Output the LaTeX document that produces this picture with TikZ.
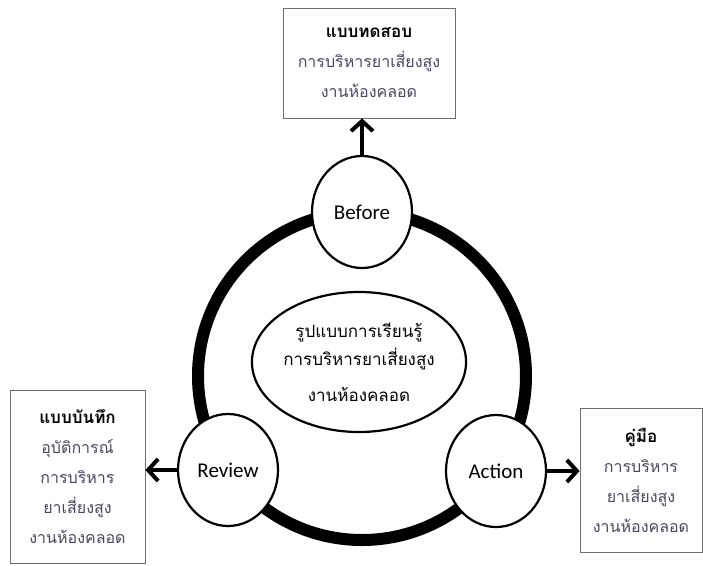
\documentclass[tikz,border=0pt]{standalone}
\usepackage{fontspec}
\setmainfont{Carlito}
\newfontfamily\thai[Script=Thai]{Loma}
\usetikzlibrary{arrows.meta,shapes.geometric}
\definecolor{bodytext}{RGB}{72,72,96}
\definecolor{boxline}{RGB}{110,110,110}
\newcommand{\Lead}[2]{\draw [lead] (#1) -- (#2);}

\begin{document}
\begin{tikzpicture}
[x=1pt,y=-1pt,
 lead/.style={-{Straight Barb[length=10pt,width=22pt]},line width=4pt},
 stage/.style={draw,ellipse,line width=2.2pt,fill=white,minimum width=100pt,
   minimum height=112pt,inner sep=0pt,font=\fontsize{21}{24}\selectfont},
 card/.style={draw=boxline,line width=0.8pt,align=center,inner sep=0pt,
   font=\thai\fontsize{16}{30}\selectfont},]

\useasboundingbox (0,0) rectangle (703,565);

% ring behind the three stages
\coordinate (O) at (362,376);
\draw [line width=12pt] (O) circle (164pt);

\node [draw,ellipse,line width=2.2pt,fill=white,minimum width=203pt,minimum height=140pt,
  inner sep=0pt,align=center,font=\thai\fontsize{17}{28}\selectfont] at (359,362) (core)
  {รูปแบบการเรียนรู้\\การบริหารยาเสี่ยงสูง\\[8pt]งานห้องคลอด};

\node [stage] at (362,212) (before) {Before};
\node [stage] at (228,470) (review) {Review};
\node [stage] at (496,471) (action) {Action};

\node [card,minimum width=172pt,minimum height=110pt] at (369,63) (test)
  {{\bfseries\fontsize{17}{30}\selectfont แบบทดสอบ}\\\textcolor{bodytext}{การบริหารยาเสี่ยงสูง}\\\textcolor{bodytext}{งานห้องคลอด}};
\node [card,minimum width=135pt,minimum height=173pt] at (77.5,476.5) (record)
  {{\bfseries\fontsize{17}{30}\selectfont แบบบันทึก}\\\textcolor{bodytext}{อุบัติการณ์}\\\textcolor{bodytext}{การบริหาร}\\
   \textcolor{bodytext}{ยาเสี่ยงสูง}\\\textcolor{bodytext}{งานห้องคลอด}};
\node [card,minimum width=122pt,minimum height=144pt] at (641,480) (manual)
  {{\bfseries\fontsize{17}{30}\selectfont คู่มือ}\\\textcolor{bodytext}{การบริหาร}\\\textcolor{bodytext}{ยาเสี่ยงสูง}\\
   \textcolor{bodytext}{งานห้องคลอด}};

\Lead{before}{before |- test.south}
\Lead{review}{review -| record.east}
\Lead{action}{action -| manual.west}
\end{tikzpicture}
\end{document}
